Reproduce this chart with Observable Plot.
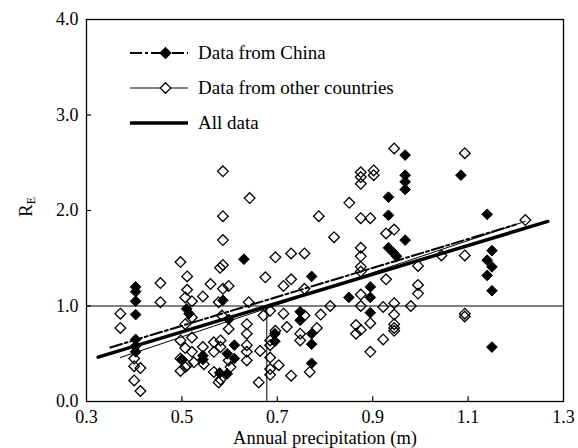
<!DOCTYPE html>
<html><head><meta charset="utf-8">
<script src="https://cdn.jsdelivr.net/npm/d3@7"></script>
<script src="https://cdn.jsdelivr.net/npm/@observablehq/plot@0.6"></script>
<style>
body{margin:0;background:#fff;}
#wrap{width:578px;height:448px;}
</style></head><body><div id="wrap"></div>
<script>
// Data from China (filled diamonds)
const chinaX = [0.403,0.403,0.403,0.403,0.403,0.403,0.403,
  0.50,0.51,0.515,0.544,0.544,
  0.579,0.595,0.595,0.586,0.598,0.61,0.61,0.63,
  0.695,0.695,0.748,0.748,0.772,0.772,0.772,0.772,
  0.85,0.895,0.895,0.895,
  0.933,0.933,0.933,0.943,0.95,
  0.968,0.968,0.968,0.968,0.968,
  1.085,1.14,1.14,1.14,1.15,1.15,1.15,1.15];
const chinaY = [1.20,1.15,1.05,0.91,0.65,0.58,0.52,
  0.44,0.97,0.92,0.48,0.44,
  0.30,0.29,0.50,1.06,0.86,0.59,0.45,1.49,
  0.71,0.63,0.94,0.85,1.31,0.71,0.60,0.40,
  1.09,1.20,1.09,0.93,
  2.14,1.95,1.61,1.56,1.52,
  2.58,2.37,2.30,2.22,1.69,
  2.37,1.96,1.48,1.32,1.58,1.41,1.16,0.57];

// Data from other countries (open diamonds)
const otherX = [0.371,0.371,0.40,0.40,0.40,0.413,0.413,
  0.455,0.455,
  0.497,0.497,0.497,0.497,
  0.507,0.507,0.507,0.507,
  0.511,0.511,0.511,
  0.521,0.521,0.521,0.521,0.525,
  0.544,0.544,0.546,0.56,
  0.567,0.567,0.567,0.577,0.577,0.581,0.581,0.581,
  0.586,0.586,0.586,0.586,0.58,0.586,0.584,
  0.598,0.598,0.598,0.602,
  0.636,0.636,0.636,0.636,0.636,0.640,0.642,
  0.661,0.664,0.671,0.675,
  0.685,0.685,0.685,0.685,0.685,0.685,
  0.696,0.696,0.703,0.713,0.713,0.72,
  0.729,0.729,0.729,0.748,0.748,
  0.757,0.757,0.757,0.768,0.783,0.787,0.791,
  0.811,0.819,0.851,0.865,0.865,
  0.875,0.875,0.875,0.875,0.875,0.875,0.875,0.875,0.875,0.875,0.875,
  0.895,0.895,0.895,0.902,0.902,
  0.922,0.922,0.928,0.928,
  0.945,0.945,0.945,0.945,0.945,0.945,0.945,
  0.98,0.995,0.995,0.995,1.044,
  1.093,1.093,1.093,1.093,1.22];
const otherY = [0.92,0.77,0.45,0.37,0.22,0.35,0.11,
  1.24,1.04,
  1.46,0.64,0.45,0.32,
  1.09,0.81,0.56,0.36,
  1.31,1.17,0.38,
  1.05,0.88,0.67,0.52,0.41,
  1.10,0.57,0.39,1.23,
  0.62,0.52,0.31,1.04,0.20,0.64,0.57,0.23,
  2.41,1.94,1.69,1.43,1.40,1.18,0.90,
  1.21,0.76,0.43,0.36,
  0.81,0.71,0.59,0.52,0.43,1.04,2.13,
  0.20,0.53,0.90,1.30,
  0.95,0.64,0.59,0.46,0.34,0.28,
  1.51,0.74,0.38,1.21,0.92,0.78,
  1.55,1.28,0.27,0.71,0.64,
  1.55,1.18,0.90,0.31,0.77,1.94,0.91,
  1.00,1.72,2.08,0.80,0.71,
  2.40,2.35,2.28,1.92,1.61,1.52,1.41,1.36,1.12,1.00,0.75,
  1.92,0.82,0.52,2.42,2.37,
  0.99,0.65,1.76,1.28,
  2.65,1.80,1.03,0.91,0.81,0.77,0.74,
  1.00,1.42,1.22,1.13,1.53,
  2.60,1.53,0.92,0.89,1.90];

// Linear trend lines
const trendNames = ["Data from China", "Data from other countries", "All data"];
const trendSlope = [1.514, 1.68, 1.508];
const trendIntercept = [0.036, -0.163, -0.025];
const trendStart = [0.35, 0.371, 0.3245];
const trendEnd = [1.20, 1.22, 1.267];

const xTicks = [0.3, 0.5, 0.7, 0.9, 1.1, 1.3];
const yTicks = [0, 1, 2, 3, 4];
const refX = [0.678];
const refY = [1.0];
const xLabel = "Annual precipitation (m)";

const china = chinaX.map((x, i) => ({x, y: chinaY[i]}));
const others = otherX.map((x, i) => ({x, y: otherY[i]}));
const trends = trendNames.flatMap((name, i) =>
  [trendStart[i], trendEnd[i]].map(x => ({name, x, y: trendSlope[i] * x + trendIntercept[i]})));

const font = "'Liberation Serif', 'Times New Roman', serif";
const svg = Plot.plot({
  width: 578, height: 448,
  marginLeft: 86, marginRight: 15, marginTop: 19, marginBottom: 47,
  style: {fontFamily: font, fontSize: "18px", color: "#000", background: "#fff"},
  x: {domain: [0.3, 1.3]},
  y: {domain: [0, 4]},
  marks: [
    Plot.ruleY(refY, {stroke: "#000", strokeWidth: 1}),
    Plot.ruleX(refX, {y1: 0, y2: refY[0], stroke: "#000", strokeWidth: 1}),
    Plot.ruleX(xTicks.slice(1, -1), {y1: 0, y2: 0.05, stroke: "#000", strokeWidth: 1.2}),
    Plot.ruleY(yTicks.slice(1, -1), {x1: 0.3, x2: 0.3105, stroke: "#000", strokeWidth: 1.2}),
    Plot.axisX(xTicks, {tickSize: 0, tickPadding: 9, tickFormat: d => d.toFixed(1), label: null}),
    Plot.axisY(yTicks, {tickSize: 0, tickPadding: 8, tickFormat: d => d.toFixed(1), label: null}),
    Plot.dot(others, {x: "x", y: "y", symbol: "diamond2", r: 4.8, stroke: "#000", strokeWidth: 1.3, fill: "none"}),
    Plot.dot(china, {x: "x", y: "y", symbol: "diamond2", r: 4.8, fill: "#000", stroke: "#000", strokeWidth: 1}),
    Plot.line(trends.filter(d => d.name === trendNames[0]), {x: "x", y: "y", stroke: "#000", strokeWidth: 2, strokeDasharray: "12,3,3,3"}),
    Plot.line(trends.filter(d => d.name === trendNames[1]), {x: "x", y: "y", stroke: "#000", strokeWidth: 1}),
    Plot.line(trends.filter(d => d.name === trendNames[2]), {x: "x", y: "y", stroke: "#000", strokeWidth: 3.5}),
    Plot.frame({stroke: "#000", strokeWidth: 1.3})
  ]
});

const s = d3.select(svg);
// x axis title
s.append("text").attr("x", 325).attr("y", 444).attr("text-anchor", "middle")
  .attr("font-family", font).attr("font-size", 18.5).attr("fill", "#000").text(xLabel);
// y axis title R_E
const yt = s.append("text").attr("transform", "translate(32,207) rotate(-90)")
  .attr("text-anchor", "middle").attr("font-family", font).attr("font-size", 19).attr("fill", "#000");
yt.append("tspan").text("R");
yt.append("tspan").attr("font-size", 12).attr("dy", 3).text("E");

// legend
const legRows = [
  {dash: "12,3,3,3", w: 2, sym: "filled"},
  {dash: null, w: 1, sym: "open"},
  {dash: null, w: 3.5, sym: null}
];
const legY = [53, 88, 123];
const g = s.append("g").attr("text-anchor", "start");
legRows.forEach((r, i) => {
  const y = legY[i];
  const ln = g.append("line").attr("x1", 130).attr("x2", 188).attr("y1", y).attr("y2", y)
    .attr("stroke", "#000").attr("stroke-width", r.w);
  if (r.dash) ln.attr("stroke-dasharray", r.dash);
  if (r.sym) {
    g.append("path").attr("transform", `translate(165.5,${y})`)
      .attr("d", d3.symbol(d3.symbolDiamond2, Math.PI * 4.8 * 4.8)())
      .attr("fill", r.sym === "filled" ? "#000" : "#fff").attr("stroke", "#000").attr("stroke-width", 1.3);
  }
  g.append("text").attr("x", 198).attr("y", y).attr("dy", "0.32em").attr("text-anchor", "start")
    .attr("font-family", font).attr("font-size", 19).attr("fill", "#000").text(trendNames[i]);
});

document.getElementById("wrap").appendChild(svg);
</script></body></html>
